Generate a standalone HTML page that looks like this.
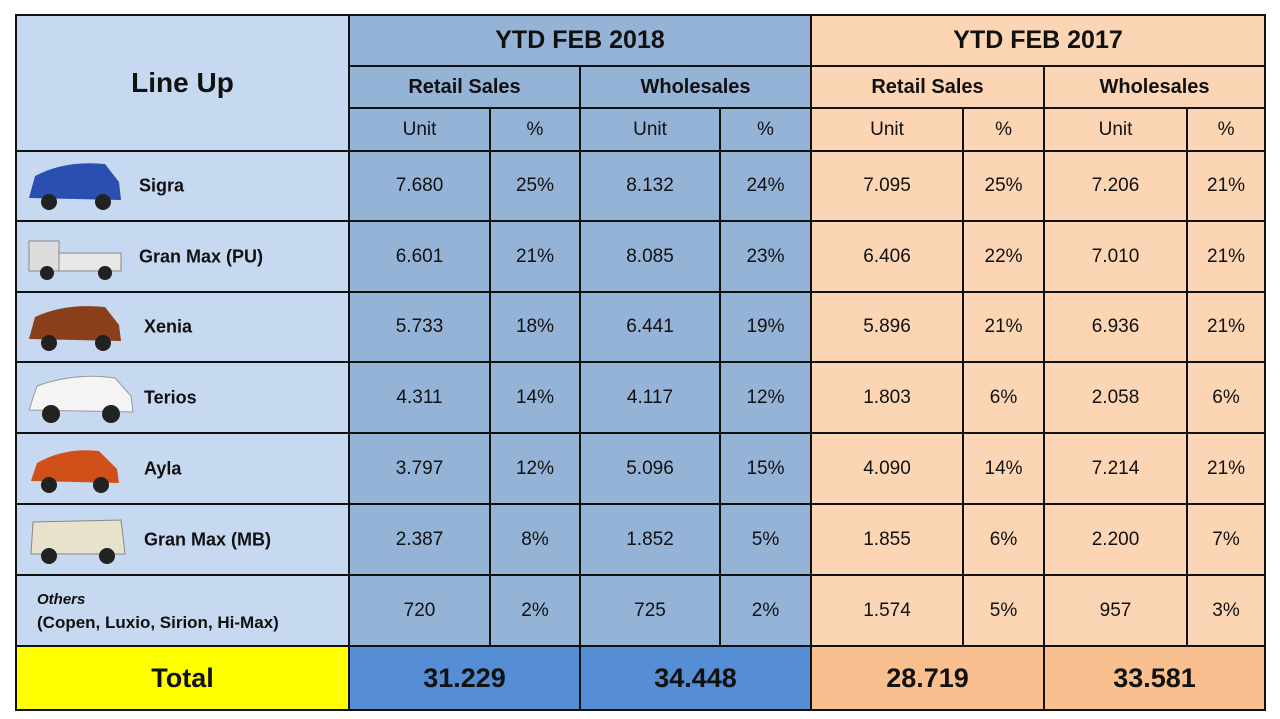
<!DOCTYPE html>
<html><head><meta charset="utf-8"><style>
body{margin:0;width:1280px;height:719px;background:#fff;position:relative;overflow:hidden;font-family:"Liberation Sans",Arial,sans-serif}
table{position:absolute;left:15px;top:14px;border-collapse:collapse;table-layout:fixed;width:1250px}
td{border:2px solid #111;text-align:center;padding:0;font-size:19px;color:#111;overflow:hidden}
.l{background:#c6d9f0}.b{background:#95b3d7}.o{background:#fcd5b4}
.tb{background:#558ed5;font-weight:bold;font-size:27px}.to{background:#fabf8f;font-weight:bold;font-size:27px}
.h{font-weight:bold;font-size:25px}.h2{font-weight:bold;font-size:20px}
.name{position:relative;text-align:left}
.name svg{position:absolute;left:8px;top:50%;transform:translateY(-50%)}
.name span{position:absolute;top:50%;transform:translateY(-50%);font-weight:bold;font-size:18px}
</style></head><body>
<table>
<colgroup><col style="width:333px"><col style="width:141px"><col style="width:90px"><col style="width:140px"><col style="width:91px"><col style="width:152px"><col style="width:81px"><col style="width:143px"><col style="width:78px"></colgroup>
<tr style="height:51px"><td class="l h" rowspan="3" style="font-size:28px">Line Up</td><td class="b h" colspan="4">YTD FEB 2018</td><td class="o h" colspan="4">YTD FEB 2017</td></tr>
<tr style="height:42px"><td class="b h2" colspan="2">Retail Sales</td><td class="b h2" colspan="2">Wholesales</td><td class="o h2" colspan="2">Retail Sales</td><td class="o h2" colspan="2">Wholesales</td></tr>
<tr style="height:43px"><td class="b">Unit</td><td class="b">%</td><td class="b">Unit</td><td class="b">%</td><td class="o">Unit</td><td class="o">%</td><td class="o">Unit</td><td class="o">%</td></tr>
<tr style="height:70px"><td class="l name"><svg width="100" height="60"><path d="M4 42 L10 20 Q40 4 80 8 L94 26 L96 44 Z" fill="#2a4fb0"/><circle cx="24" cy="46" r="8" fill="#222"/><circle cx="78" cy="46" r="8" fill="#222"/></svg><span style="left:122px">Sigra</span></td><td class="b">7.680</td><td class="b">25%</td><td class="b">8.132</td><td class="b">24%</td><td class="o">7.095</td><td class="o">25%</td><td class="o">7.206</td><td class="o">21%</td></tr>
<tr style="height:71px"><td class="l name"><svg width="100" height="60"><rect x="4" y="14" width="30" height="30" fill="#ddd" stroke="#888"/><rect x="34" y="26" width="62" height="18" fill="#e8e8e8" stroke="#888"/><circle cx="22" cy="46" r="7" fill="#222"/><circle cx="80" cy="46" r="7" fill="#222"/></svg><span style="left:122px">Gran Max (PU)</span></td><td class="b">6.601</td><td class="b">21%</td><td class="b">8.085</td><td class="b">23%</td><td class="o">6.406</td><td class="o">22%</td><td class="o">7.010</td><td class="o">21%</td></tr>
<tr style="height:70px"><td class="l name"><svg width="100" height="60"><path d="M4 42 L10 20 Q40 6 80 10 L94 28 L96 44 Z" fill="#8a3e1a"/><circle cx="24" cy="46" r="8" fill="#222"/><circle cx="78" cy="46" r="8" fill="#222"/></svg><span style="left:127px">Xenia</span></td><td class="b">5.733</td><td class="b">18%</td><td class="b">6.441</td><td class="b">19%</td><td class="o">5.896</td><td class="o">21%</td><td class="o">6.936</td><td class="o">21%</td></tr>
<tr style="height:71px"><td class="l name"><svg width="110" height="60"><path d="M4 42 L12 18 Q50 4 90 10 L106 28 L108 44 Z" fill="#f4f4f4" stroke="#999"/><circle cx="26" cy="46" r="9" fill="#222"/><circle cx="86" cy="46" r="9" fill="#222"/></svg><span style="left:127px">Terios</span></td><td class="b">4.311</td><td class="b">14%</td><td class="b">4.117</td><td class="b">12%</td><td class="o">1.803</td><td class="o">6%</td><td class="o">2.058</td><td class="o">6%</td></tr>
<tr style="height:71px"><td class="l name"><svg width="100" height="60"><path d="M6 42 L12 24 Q40 8 74 12 L92 30 L94 44 Z" fill="#d0501a"/><circle cx="24" cy="46" r="8" fill="#222"/><circle cx="76" cy="46" r="8" fill="#222"/></svg><span style="left:127px">Ayla</span></td><td class="b">3.797</td><td class="b">12%</td><td class="b">5.096</td><td class="b">15%</td><td class="o">4.090</td><td class="o">14%</td><td class="o">7.214</td><td class="o">21%</td></tr>
<tr style="height:71px"><td class="l name"><svg width="105" height="60"><path d="M6 44 L8 12 L96 10 L100 44 Z" fill="#e6e2cc" stroke="#888"/><circle cx="24" cy="46" r="8" fill="#222"/><circle cx="82" cy="46" r="8" fill="#222"/></svg><span style="left:127px">Gran Max (MB)</span></td><td class="b">2.387</td><td class="b">8%</td><td class="b">1.852</td><td class="b">5%</td><td class="o">1.855</td><td class="o">6%</td><td class="o">2.200</td><td class="o">7%</td></tr>
<tr style="height:71px"><td class="l" style="text-align:left;padding-left:20px;font-weight:bold;font-size:17px;line-height:23px"><i style="font-size:15px">Others</i><br>(Copen, Luxio, Sirion, Hi-Max)</td><td class="b">720</td><td class="b">2%</td><td class="b">725</td><td class="b">2%</td><td class="o">1.574</td><td class="o">5%</td><td class="o">957</td><td class="o">3%</td></tr>
<tr style="height:64px"><td style="background:#ffff00;font-weight:bold;font-size:27px">Total</td><td class="tb" colspan="2">31.229</td><td class="tb" colspan="2">34.448</td><td class="to" colspan="2">28.719</td><td class="to" colspan="2">33.581</td></tr>
</table>
</body></html>
